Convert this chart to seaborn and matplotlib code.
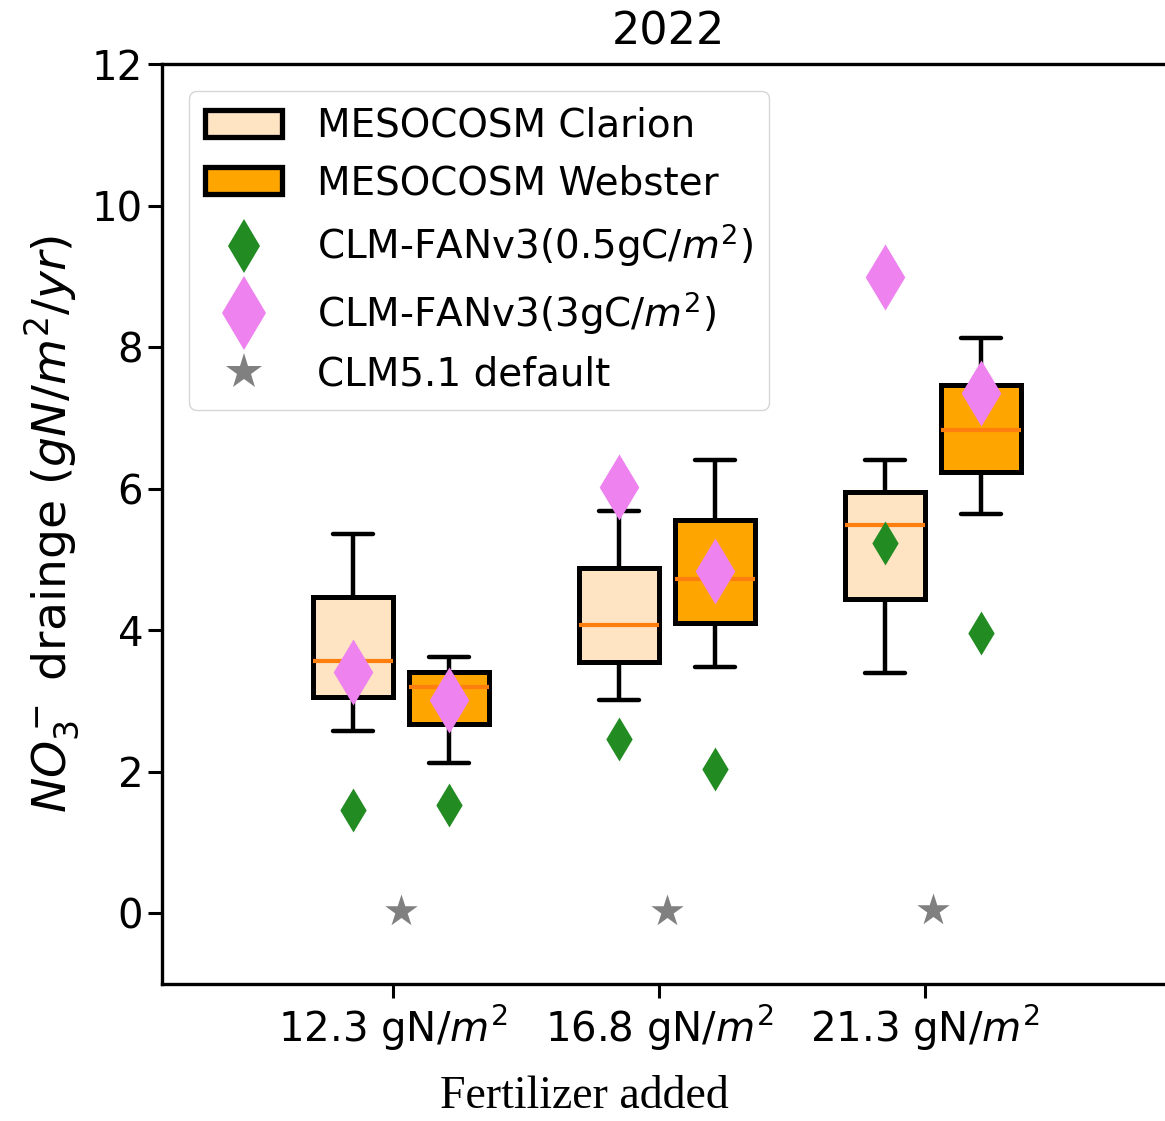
import matplotlib
matplotlib.use("Agg")
import matplotlib.pyplot as plt
import seaborn as sns
import pandas as pd
from matplotlib.patches import Patch
from matplotlib.lines import Line2D

# box stats (min, Q1, median, Q3, max)
fertilizer = ["12.3 gN/$m^2$", "16.8 gN/$m^2$", "21.3 gN/$m^2$"]
clarion_lo = [2.57, 3.01, 3.39]
clarion_q1 = [3.05, 3.55, 4.44]
clarion_med = [3.56, 4.07, 5.48]
clarion_q3 = [4.47, 4.88, 5.95]
clarion_hi = [5.36, 5.68, 6.40]
webster_lo = [2.13, 3.48, 5.64]
webster_q1 = [2.67, 4.10, 6.23]
webster_med = [3.19, 4.72, 6.83]
webster_q3 = [3.41, 5.55, 7.46]
webster_hi = [3.62, 6.40, 8.13]

# model values (Clarion, Webster) per fertilizer level
fan05_clarion = [1.46, 2.46, 5.23]
fan05_webster = [1.53, 2.04, 3.96]
fan3_clarion = [3.41, 6.02, 8.99]
fan3_webster = [3.01, 4.83, 7.35]
clm_default = [0.03, 0.03, 0.05]

fs = 29
sns.set_theme(style="ticks")
plt.rcParams["font.family"] = ["DejaVu Sans"]
plt.rcParams["mathtext.fontset"] = "dejavusans"
plt.rcParams["text.color"] = "black"
plt.rcParams["axes.labelcolor"] = "black"

groups = [1, 2, 3]
off_c, off_w, off_s = -0.15, 0.21, 0.03


def box_frame(pos, lo, q1, med, q3, hi):
    rows = []
    for p, a, b, c, d, e in zip(pos, lo, q1, med, q3, hi):
        for v in (a, b, c, d, e):
            rows.append({"x": p, "y": v})
    return pd.DataFrame(rows)


df_c = box_frame([g + off_c for g in groups], clarion_lo, clarion_q1, clarion_med, clarion_q3, clarion_hi)
df_w = box_frame([g + off_w for g in groups], webster_lo, webster_q1, webster_med, webster_q3, webster_hi)

fig = plt.figure(figsize=(11.65, 11.21), dpi=100)
ax = fig.add_axes([0.139, 0.1222, 0.869, 0.8207])

box_kw = dict(native_scale=True, width=0.3, whis=(0, 100), saturation=1,
              linecolor="black", linewidth=3.6, showfliers=False,
              medianprops=dict(color="#ff7f0e", linewidth=3),
              whiskerprops=dict(linewidth=3.2), capprops=dict(linewidth=3.2))
sns.boxplot(data=df_c, x="x", y="y", color="bisque", ax=ax, **box_kw)
sns.boxplot(data=df_w, x="x", y="y", color="orange", ax=ax, **box_kw)

sns.scatterplot(x=[g + off_c for g in groups], y=fan05_clarion, marker="d", s=500,
                color="forestgreen", linewidth=0, zorder=5, ax=ax)
sns.scatterplot(x=[g + off_w for g in groups], y=fan05_webster, marker="d", s=500,
                color="forestgreen", linewidth=0, zorder=5, ax=ax)
sns.scatterplot(x=[g + off_c for g in groups], y=fan3_clarion, marker="d", s=1130,
                color="violet", linewidth=0, zorder=5, ax=ax)
sns.scatterplot(x=[g + off_w for g in groups], y=fan3_webster, marker="d", s=1130,
                color="violet", linewidth=0, zorder=5, ax=ax)
sns.scatterplot(x=[g + off_s for g in groups], y=clm_default, marker="*", s=600,
                color="gray", linewidth=0, zorder=5, ax=ax)

ax.set_xlim(0.132, 3.936)
ax.set_ylim(-1, 12)
ax.set_xticks(groups)
ax.set_xticklabels(fertilizer)
ax.set_yticks([0, 2, 4, 6, 8, 10, 12])
ax.tick_params(labelsize=fs, length=10, width=2.2, colors="black")
for sp in ax.spines.values():
    sp.set_linewidth(2.4)
    sp.set_color("black")
ax.set_xlabel("")
ax.set_ylabel("$NO_3^-$ drainge ($gN/m^2/yr$)", fontsize=34, labelpad=8)
ax.set_title("2022", fontsize=32, pad=14)

fig.text(584 / 1165, 1 - 1097 / 1121, "Fertilizer added", fontsize=33,
         family=["Liberation Serif", "DejaVu Serif"], ha="center", va="center")

handles = [
    Patch(facecolor="bisque", edgecolor="black", linewidth=3.8, label="MESOCOSM Clarion"),
    Patch(facecolor="orange", edgecolor="black", linewidth=3.8, label="MESOCOSM Webster"),
    Line2D([], [], linestyle="none", marker="d", markersize=27, color="forestgreen",
           markeredgewidth=0, label="CLM-FANv3(0.5gC/$m^2$)"),
    Line2D([], [], linestyle="none", marker="d", markersize=38, color="violet",
           markeredgewidth=0, label="CLM-FANv3(3gC/$m^2$)"),
    Line2D([], [], linestyle="none", marker="*", markersize=27, color="gray",
           markeredgewidth=0, label="CLM5.1 default"),
]
ax.legend(handles=handles, loc="upper left", fontsize=28, frameon=True,
          fancybox=True, borderaxespad=0.7, labelspacing=0.5, handletextpad=0.9)

fig.savefig("out.png", dpi=100)
